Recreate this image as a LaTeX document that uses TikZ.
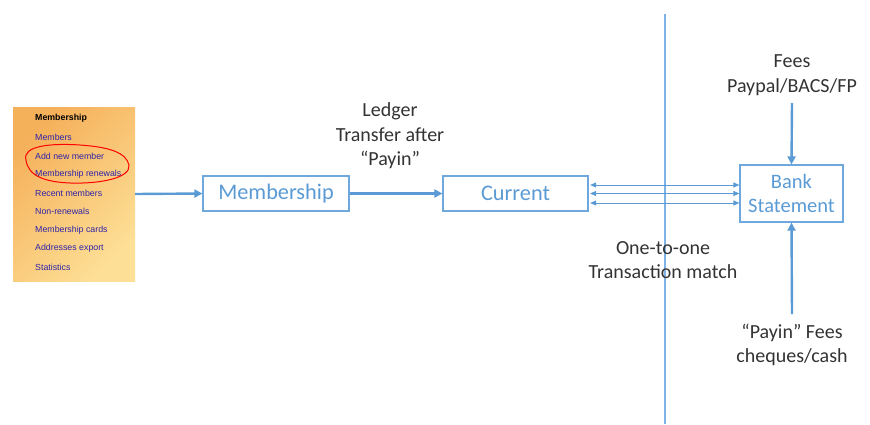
\documentclass[tikz,border=0pt]{standalone}
\usepackage{fontspec}
\setmainfont{Carlito}
\newfontfamily\panelfont{Liberation Sans}
\usetikzlibrary{arrows.meta}
\definecolor{oblue}{HTML}{5B9BD5}
\definecolor{boxline}{HTML}{6FA8DC}
\definecolor{vline}{HTML}{7DB3E6}
\definecolor{dtext}{HTML}{333333}
\definecolor{ptext}{HTML}{2E22A8}
\definecolor{porange}{HTML}{F5B05A}
\definecolor{pyellow}{HTML}{FDDF96}
\tikzset{
  procbox/.style={draw=boxline, line width=1.2pt, fill=white, text=oblue, inner sep=0pt,
    font=\fontsize{22.3}{24}\selectfont, align=center},
  label/.style={text=dtext, font=\fontsize{20}{24.5}\selectfont, align=center, inner sep=0pt},
  mainarrow/.style={draw=oblue, line width=2.4pt, -{Triangle[length=8pt,width=8pt]}},
  thinarrow/.style={draw=oblue, line width=1pt, {Triangle[length=6pt,width=5pt]}-{Triangle[length=6pt,width=5pt]}},
  item/.style={anchor=west, inner sep=0pt, text=ptext, font=\panelfont\fontsize{8.8}{10}\selectfont},
}
\begin{document}
\begin{tikzpicture}[x=1pt,y=-1pt]
\useasboundingbox (0,0) rectangle (870,424);
% panel
\shade[top color=porange, bottom color=pyellow, shading angle=45] (13,107) rectangle (135,281);
\node[item, text=black, font=\panelfont\bfseries\fontsize{8.8}{10}\selectfont] (p0) at (35,118) {Membership};
\node[item] (p1) at (35,137) {Members};
\node[item] (p2) at (35,156) {Add new member};
\node[item] (p3) at (35,174) {Membership renewals};
\node[item] (p4) at (35,193) {Recent members};
\node[item] (p5) at (35,211) {Non-renewals};
\node[item] (p6) at (35,230) {Membership cards};
\node[item] (p7) at (35,248) {Addresses export};
\node[item] (p8) at (35,267) {Statistics};
\draw[red, line width=1pt] (26,160) .. controls (22,146) and (50,143) .. (80,145)
  .. controls (108,147) and (126,152) .. (129,165)
  .. controls (131,178) and (100,184) .. (70,183)
  .. controls (45,182) and (28,176) .. (26,160);
\coordinate (pout) at (135,194);
% vertical line
\draw[vline, line width=1.5pt] (665,14) -- (665,424);
% boxes
\node[procbox, minimum width=146pt, minimum height=35pt] (mem) at (276,193.5) {Membership};
\node[procbox, minimum width=145pt, minimum height=35pt] (cur) at (515.5,193.5) {Current};
\node[procbox, minimum width=103pt, minimum height=57pt, font=\fontsize{20.5}{24}\selectfont] (bank) at (791.5,193.5) {Bank\\Statement};
% labels
\node[label] (ledger) at (390,136) {Ledger\\Transfer after\\“Payin”};
\node[label] (fees) at (792,75) {Fees\\Paypal/BACS/FP};
\node[label] (payin) at (792,345) {“Payin” Fees\\cheques/cash};
\node[label] (match) at (663,260) {One-to-one\\Transaction match};
% arrows
\draw[mainarrow] (pout) -- (mem.west);
\draw[mainarrow] (mem.east) -- (cur.west);
\coordinate (ftop) at (792,103);
\coordinate (pbot) at (792,314);
\draw[mainarrow] (ftop) -- (bank.north);
\draw[mainarrow] (pbot) -- (bank.south);
\draw[thinarrow] ([xshift=1.5pt,yshift=-9.5pt]cur.east) -- ([yshift=-9.5pt]bank.west);
\draw[thinarrow] ([xshift=1.5pt]cur.east) -- (bank.west);
\draw[thinarrow] ([xshift=1.5pt,yshift=8.5pt]cur.east) -- ([yshift=8.5pt]bank.west);
\end{tikzpicture}
\end{document}
